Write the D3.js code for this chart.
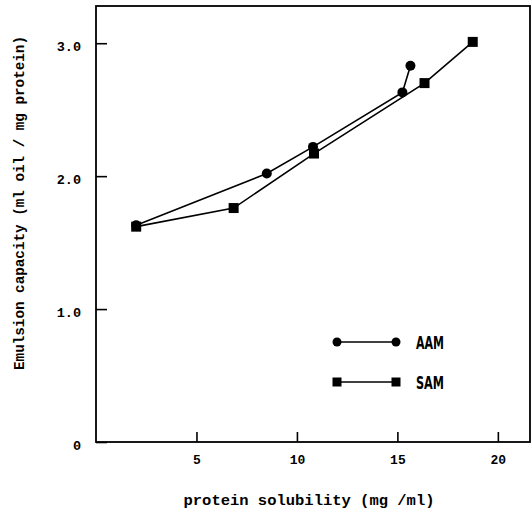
<!DOCTYPE html>
<html>
<head>
<meta charset="utf-8">
<script src="https://cdn.jsdelivr.net/npm/d3@7"></script>
<style>
  html, body { margin: 0; padding: 0; background: #fff; }
  svg { display: block; }
  .mono { font-family: "Liberation Mono", "DejaVu Sans Mono", monospace; font-weight: bold; }
</style>
</head>
<body>
<svg id="chart" width="532" height="518"></svg>
<script>
// Emulsion capacity vs. protein solubility for the two protein preparations
const aamSolubility = [2.0, 8.5, 10.8, 15.25, 15.65];
const aamCapacity   = [1.63, 2.02, 2.22, 2.63, 2.83];
const samSolubility = [2.0, 6.85, 10.85, 16.35, 18.75];
const samCapacity   = [1.62, 1.76, 2.17, 2.70, 3.01];

const xTicks = [5, 10, 15, 20];
const xTickLabels = ["5", "10", "15", "20"];
const yTicks = [0, 1, 2, 3];
const yTickLabels = ["0", "1.0", "2.0", "3.0"];

const seriesNames = ["AAM", "SAM"];
const xTitle = "protein solubility (mg /ml)";
const yTitle = "Emulsion capacity (ml oil / mg protein)";

const svg = d3.select("#chart");
const plotLeft = 96, plotRight = 530, plotTop = 6, plotBottom = 442;

const x = d3.scaleLinear().domain([0, 21.6]).range([plotLeft, plotRight]);
const y = d3.scaleLinear().domain([0, 3.28]).range([plotBottom, plotTop]);

// frame
svg.append("rect")
  .attr("x", plotLeft).attr("y", plotTop)
  .attr("width", plotRight - plotLeft).attr("height", plotBottom - plotTop)
  .attr("fill", "none").attr("stroke", "#000").attr("stroke-width", 1.8);

// x axis, ticks pointing inward
const xAxis = svg.append("g")
  .attr("transform", `translate(0,${plotBottom})`)
  .call(d3.axisBottom(x).tickValues(xTicks)
    .tickFormat((d, i) => xTickLabels[i])
    .tickSize(-10).tickSizeOuter(0).tickPadding(13));
xAxis.select(".domain").remove();
xAxis.selectAll("line").attr("stroke", "#000").attr("stroke-width", 1.6);
xAxis.selectAll("text").attr("class", "mono").attr("font-size", 13).attr("fill", "#000");

// y axis, ticks pointing inward
const yAxis = svg.append("g")
  .attr("transform", `translate(${plotLeft},0)`)
  .call(d3.axisLeft(y).tickValues(yTicks)
    .tickFormat((d, i) => yTickLabels[i])
    .tickSize(-11).tickSizeOuter(0).tickPadding(15));
yAxis.select(".domain").remove();
yAxis.selectAll("line").attr("stroke", "#000").attr("stroke-width", 1.6);
yAxis.selectAll("text").attr("class", "mono").attr("font-size", 13.5).attr("fill", "#000")
  .attr("dy", "0.55em");

// axis titles
svg.append("text")
  .attr("class", "mono")
  .attr("x", 309).attr("y", 505)
  .attr("text-anchor", "middle")
  .attr("font-size", 15)
  .attr("textLength", 251).attr("lengthAdjust", "spacingAndGlyphs")
  .text(xTitle);

svg.append("text")
  .attr("class", "mono")
  .attr("transform", "translate(24,203) rotate(-90)")
  .attr("text-anchor", "middle")
  .attr("font-size", 14.5)
  .attr("textLength", 334).attr("lengthAdjust", "spacingAndGlyphs")
  .text(yTitle);

// series
const line = d3.line().x(d => x(d[0])).y(d => y(d[1]));
const aam = aamSolubility.map((v, i) => [v, aamCapacity[i]]);
const sam = samSolubility.map((v, i) => [v, samCapacity[i]]);

svg.append("path").datum(aam).attr("d", line)
  .attr("fill", "none").attr("stroke", "#000").attr("stroke-width", 1.6);
svg.append("path").datum(sam).attr("d", line)
  .attr("fill", "none").attr("stroke", "#000").attr("stroke-width", 1.6);

svg.append("g").selectAll("circle").data(aam).join("circle")
  .attr("cx", d => x(d[0])).attr("cy", d => y(d[1])).attr("r", 5).attr("fill", "#000");
svg.append("g").selectAll("rect").data(sam).join("rect")
  .attr("x", d => x(d[0]) - 5).attr("y", d => y(d[1]) - 5)
  .attr("width", 10).attr("height", 10).attr("fill", "#000");

// legend
const lg = svg.append("g");
const legendRows = [{ name: seriesNames[0], y: 342, shape: "circle" },
                    { name: seriesNames[1], y: 382, shape: "square" }];
legendRows.forEach(r => {
  lg.append("line").attr("x1", 337).attr("x2", 396).attr("y1", r.y).attr("y2", r.y)
    .attr("stroke", "#000").attr("stroke-width", 1.5);
  [337, 396].forEach(cx => {
    if (r.shape === "circle") {
      lg.append("circle").attr("cx", cx).attr("cy", r.y).attr("r", 4.5).attr("fill", "#000");
    } else {
      lg.append("rect").attr("x", cx - 4.5).attr("y", r.y - 4.5)
        .attr("width", 9).attr("height", 9).attr("fill", "#000");
    }
  });
  lg.append("text")
    .attr("x", 416).attr("y", r.y + 7)
    .attr("font-family", "'DejaVu Sans Condensed', 'Liberation Sans Narrow', sans-serif")
    .attr("font-weight", "bold").attr("font-size", 18)
    .attr("textLength", 28).attr("lengthAdjust", "spacingAndGlyphs")
    .text(r.name);
});
</script>
</body>
</html>
